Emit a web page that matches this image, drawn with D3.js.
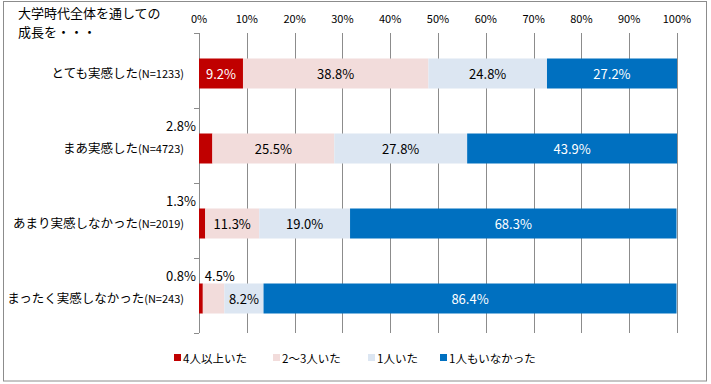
<!DOCTYPE html>
<html>
<head>
<meta charset="utf-8">
<script src="https://cdn.jsdelivr.net/npm/d3@7"></script>
<style>
  body { margin: 0; background: #fff; }
  text { font-family: "Noto Sans CJK JP", "Noto Sans", sans-serif; fill: #000; }
</style>
</head>
<body>
<div id="chart"></div>
<script>
// data
const categories = ['とても実感した', 'まあ実感した', 'あまり実感しなかった', 'まったく実感しなかった']
const sampleSizes = ['(N=1233)', '(N=4723)', '(N=2019)', '(N=243)']
const seriesNames = ['4人以上いた', '2〜3人いた', '1人いた', '1人もいなかった']
const fourOrMore = [9.2, 2.8, 1.3, 0.8]
const twoToThree = [38.8, 25.5, 11.3, 4.5]
const onlyOne = [24.8, 27.8, 19.0, 8.2]
const none = [27.2, 43.9, 68.3, 86.4]
const xTicks = [0, 10, 20, 30, 40, 50, 60, 70, 80, 90, 100]

const colors = ['#C00000', '#F2DCDB', '#DCE6F2', '#0070C0']
const labelColors = ['#fff', '#000', '#000', '#fff']

const W = 711, H = 384
const margin = {top: 33, left: 199, right: 34, bottom: 51}
const width = W - margin.left - margin.right
const height = H - margin.top - margin.bottom

const rows = categories.map((c, i) => ({
  cat: c, n: sampleSizes[i],
  fourOrMore: fourOrMore[i], twoToThree: twoToThree[i], onlyOne: onlyOne[i], none: none[i]
}))
const keys = ['fourOrMore', 'twoToThree', 'onlyOne', 'none']
const stacked = d3.stack().keys(keys)(rows)

const svg = d3.select('#chart').append('svg')
  .attr('width', W).attr('height', H)

// outer frame
svg.append('rect')
  .attr('x', 3.5).attr('y', 1.5).attr('width', 703).attr('height', 379.5)
  .attr('fill', '#fff').attr('stroke', '#8c8c8c')

const g = svg.append('g')
  .attr('transform', `translate(${margin.left},${margin.top})`)

const x = d3.scaleLinear().domain([0, 100]).range([0, width])
const y = d3.scaleBand().domain(categories).range([3, height + 3]).paddingInner(0.6).paddingOuter(0.3)

// gridlines
g.selectAll('.grid').data(xTicks).enter().append('line')
  .attr('x1', d => Math.round(x(d)) + 0.5).attr('x2', d => Math.round(x(d)) + 0.5)
  .attr('y1', 0).attr('y2', height)
  .attr('stroke', '#8c8c8c')

// category separator ticks on the left axis
const bandStep = height / categories.length
d3.range(categories.length + 1).forEach(i => {
  g.append('line')
    .attr('x1', -5).attr('x2', 0)
    .attr('y1', Math.round(i * bandStep) + 0.5).attr('y2', Math.round(i * bandStep) + 0.5)
    .attr('stroke', '#8c8c8c')
})

// top axis labels
g.selectAll('.xlab').data(xTicks).enter().append('text')
  .attr('x', d => x(d)).attr('y', -10)
  .attr('text-anchor', 'middle')
  .style('font-size', '11px')
  .text(d => d + '%')

// bars
const layer = g.selectAll('.layer').data(stacked).enter().append('g')
  .attr('fill', (d, i) => colors[i])

layer.selectAll('rect').data(d => d).enter().append('rect')
  .attr('x', d => x(d[0]))
  .attr('y', d => y(d.data.cat))
  .attr('width', d => x(d[1]) - x(d[0]))
  .attr('height', y.bandwidth())

// value labels
stacked.forEach((s, si) => {
  s.forEach(d => {
    const v = d[1] - d[0]
    const t = g.append('text').style('font-size', '13px').text(v.toFixed(1) + '%')
    const cy = y(d.data.cat) + y.bandwidth() / 2
    if (x(d[1]) - x(d[0]) > 34) {
      t.attr('x', (x(d[0]) + x(d[1])) / 2).attr('y', cy + 5)
        .attr('text-anchor', 'middle').style('fill', labelColors[si])
    } else if (si === 0) {
      t.attr('x', -3).attr('y', y(d.data.cat) - 3).attr('text-anchor', 'end')
    } else {
      t.attr('x', x(d[0]) + 2).attr('y', y(d.data.cat) - 3).attr('text-anchor', 'start')
    }
  })
})

// category labels
const catLab = g.selectAll('.cat').data(rows).enter().append('text')
  .attr('x', -15).attr('y', d => y(d.cat) + y.bandwidth() / 2 + 4)
  .attr('text-anchor', 'end')
  .style('font-size', '12.5px')
catLab.append('tspan').text(d => d.cat)
catLab.append('tspan').style('font-size', '11px').text(d => d.n)

// title, two lines
const titleLines = ['大学時代全体を通しての', '成長を・・・']
svg.selectAll('.title').data(titleLines).enter().append('text')
  .attr('x', 18).attr('y', (d, i) => 18 + i * 19)
  .style('font-size', '13px')
  .text(d => d)

// legend
const legendX = [174, 273, 368, 440]
const legend = svg.selectAll('.leg').data(seriesNames).enter().append('g')
  .attr('transform', (d, i) => `translate(${legendX[i]},358)`)
legend.append('rect').attr('x', 0).attr('y', -4).attr('width', 7).attr('height', 7)
  .attr('fill', (d, i) => colors[i])
legend.append('text').attr('x', 9).attr('y', 4.5)
  .style('font-size', '11.5px').text(d => d)
</script>
</body>
</html>
